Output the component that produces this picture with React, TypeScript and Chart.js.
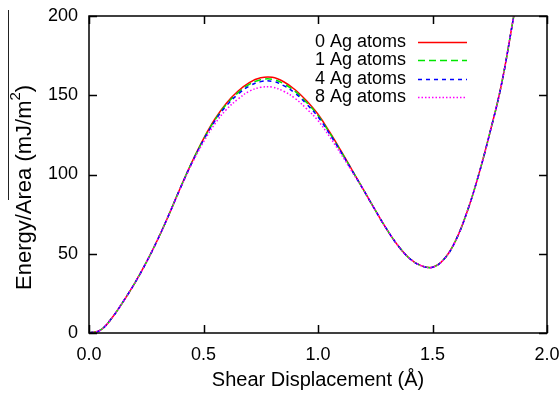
import React, { useEffect, useRef } from "react";
import { Chart, registerables } from "chart.js";

Chart.register(...registerables);

// Shear displacement (Å)
const xValues = [
  0, 0.05, 0.1, 0.15, 0.2, 0.25, 0.3, 0.35, 0.4, 0.45, 0.5, 0.55, 0.6, 0.65, 0.7, 0.75, 0.8, 0.85, 0.9, 0.95,
  1.0, 1.05, 1.1, 1.15, 1.2, 1.25, 1.3, 1.35, 1.4, 1.45, 1.5, 1.55, 1.6, 1.65, 1.7, 1.75, 1.8, 1.85, 1.9,
];

const seriesLabels = ["0 Ag atoms", "1 Ag atoms", "4 Ag atoms", "8 Ag atoms"];

// Energy/Area (mJ/m^2)
const ag0 = [
  0, 1.8, 9.5, 20, 31.5, 44.5, 59, 75, 92, 108, 122.5, 135, 145, 152.5, 158, 161, 161.3, 158.5, 153.5, 146.5,
  138, 127, 115, 102.5, 90, 77.5, 65.5, 55, 47, 42.5, 41.5, 46.5, 58, 76, 99, 126, 156, 196, 238,
];
const ag1 = [
  0, 1.8, 9.5, 20, 31.5, 44.5, 59, 75, 91.9, 107.8, 122.1, 134.4, 144.2, 151.5, 156.9, 159.8, 160.1, 157.3, 152.4, 145.5,
  137.2, 126.4, 114.6, 102.3, 90, 77.5, 65.5, 55, 47, 42.5, 41.5, 46.5, 58, 76, 99, 126, 156, 196, 238,
];
const ag4 = [
  0, 1.8, 9.5, 20, 31.5, 44.5, 59, 75, 91.8, 107.6, 121.7, 133.8, 143.4, 150.5, 155.8, 158.6, 158.8, 156.1, 151.3, 144.5,
  136.4, 125.8, 114.2, 102.1, 90, 77.5, 65.5, 55, 47, 42.5, 41.5, 46.5, 58, 76, 99, 126, 156, 196, 238,
];
const ag8 = [
  0, 1.8, 9.5, 20, 31.5, 44.5, 59, 75, 91.5, 107, 120.5, 132, 141, 147.5, 152.5, 155, 155.1, 152.5, 148, 141.5,
  134, 124, 113, 101.5, 90, 77.5, 65.5, 55, 47, 42.5, 41.5, 46.5, 58, 76, 99, 126, 156, 196, 238,
];

const seriesValues = [ag0, ag1, ag4, ag8];
const seriesColors = ["#ff0000", "#00e600", "#0000ff", "#ff00ff"];
const seriesDashes = [[], [7, 4], [4, 4], [1.5, 2]];

const xTitle = "Shear Displacement (Å)";
const yTitleMain = "Energy/Area (mJ/m";
const yTitleSup = "2";
const yTitleEnd = ")";

const FONT = "'Liberation Sans', Arial, Helvetica, sans-serif";

const decorPlugin = {
  id: "decor",
  afterDatasetsDraw(chart: any) {
    const { ctx, chartArea: a, scales } = chart;
    ctx.save();
    // frame
    ctx.strokeStyle = "#000";
    ctx.lineWidth = 1.5;
    ctx.strokeRect(a.left, a.top, a.right - a.left, a.bottom - a.top);
    // inward ticks on all four sides
    const tl = 8;
    ctx.beginPath();
    scales.x.ticks.forEach((t: any) => {
      const px = Math.round(scales.x.getPixelForValue(t.value)) + 0.5;
      ctx.moveTo(px, a.bottom);
      ctx.lineTo(px, a.bottom - tl);
      ctx.moveTo(px, a.top);
      ctx.lineTo(px, a.top + tl);
    });
    scales.y.ticks.forEach((t: any) => {
      const py = Math.round(scales.y.getPixelForValue(t.value)) + 0.5;
      ctx.moveTo(a.left, py);
      ctx.lineTo(a.left + tl, py);
      ctx.moveTo(a.right, py);
      ctx.lineTo(a.right - tl, py);
    });
    ctx.stroke();

    // legend (text left, line sample right)
    ctx.font = `18px ${FONT}`;
    ctx.textBaseline = "middle";
    ctx.textAlign = "left";
    chart.data.datasets.forEach((ds: any, i: number) => {
      const y = 42 + i * 18.3;
      ctx.fillStyle = "#000";
      ctx.fillText(ds.label, 315, y);
      ctx.beginPath();
      ctx.strokeStyle = ds.borderColor;
      ctx.lineWidth = 1.5;
      ctx.setLineDash(ds.borderDash || []);
      ctx.moveTo(418, Math.round(y) + 0.5);
      ctx.lineTo(467, Math.round(y) + 0.5);
      ctx.stroke();
      ctx.setLineDash([]);
    });

    // y-axis title with superscript
    ctx.fillStyle = "#000";
    ctx.translate(31, 290);
    ctx.rotate(-Math.PI / 2);
    ctx.textBaseline = "alphabetic";
    ctx.textAlign = "left";
    ctx.font = `22px ${FONT}`;
    ctx.fillText(yTitleMain, 0, 0);
    let w = ctx.measureText(yTitleMain).width;
    ctx.font = `15px ${FONT}`;
    ctx.fillText(yTitleSup, w, -11);
    w += ctx.measureText(yTitleSup).width;
    ctx.font = `22px ${FONT}`;
    ctx.fillText(yTitleEnd, w, 0);
    ctx.restore();

    // stray rule at the far left of the reference
    ctx.save();
    ctx.strokeStyle = "#222";
    ctx.lineWidth = 1;
    ctx.beginPath();
    ctx.moveTo(8.5, 10);
    ctx.lineTo(8.5, 200);
    ctx.stroke();
    ctx.restore();
  },
};

export default function App() {
  const ref = useRef<HTMLCanvasElement>(null);

  useEffect(() => {
    if (!ref.current) return;
    const chart = new Chart(ref.current, {
      type: "line",
      data: {
        datasets: seriesLabels.map((label, i) => ({
          label,
          data: xValues.map((x, j) => ({ x, y: seriesValues[i][j] })),
          borderColor: seriesColors[i],
          backgroundColor: seriesColors[i],
          borderDash: seriesDashes[i],
          borderWidth: 1.5,
          pointRadius: 0,
          fill: false,
          tension: 0.4,
          order: 3 - i,
        })),
      },
      options: {
        responsive: false,
        animation: false,
        layout: { padding: { left: 0, right: 13, top: 16, bottom: 0 } },
        plugins: { legend: { display: false }, tooltip: { enabled: false } },
        scales: {
          x: {
            type: "linear",
            min: 0,
            max: 2,
            grid: { display: false, drawTicks: false },
            border: { display: false },
            ticks: {
              stepSize: 0.5,
              color: "#000",
              padding: 11,
              font: { family: FONT, size: 18 },
              callback: (v: any) => Number(v).toFixed(1),
            },
            title: {
              display: true,
              text: xTitle,
              color: "#000",
              font: { family: FONT, size: 20 },
              padding: { top: 0, bottom: 2 },
            },
            afterFit: (s: any) => {
              s.height = 394 - 333;
              s.paddingLeft = 0;
              s.paddingRight = 0;
              s.paddingTop = 0;
              s.paddingBottom = 0;
            },
          },
          y: {
            type: "linear",
            min: 0,
            max: 200,
            grid: { display: false, drawTicks: false },
            border: { display: false },
            ticks: {
              stepSize: 50,
              color: "#000",
              padding: 11,
              font: { family: FONT, size: 18 },
            },
            afterFit: (s: any) => {
              s.width = 89;
              s.paddingLeft = 0;
              s.paddingRight = 0;
              s.paddingTop = 0;
              s.paddingBottom = 0;
            },
          },
        },
      },
      plugins: [decorPlugin],
    });
    return () => chart.destroy();
  }, []);

  return (
    <div style={{ position: "fixed", left: 0, top: 0, width: 560, height: 394, background: "#fff" }}>
      <canvas ref={ref} width={560} height={394} style={{ display: "block" }} />
    </div>
  );
}
